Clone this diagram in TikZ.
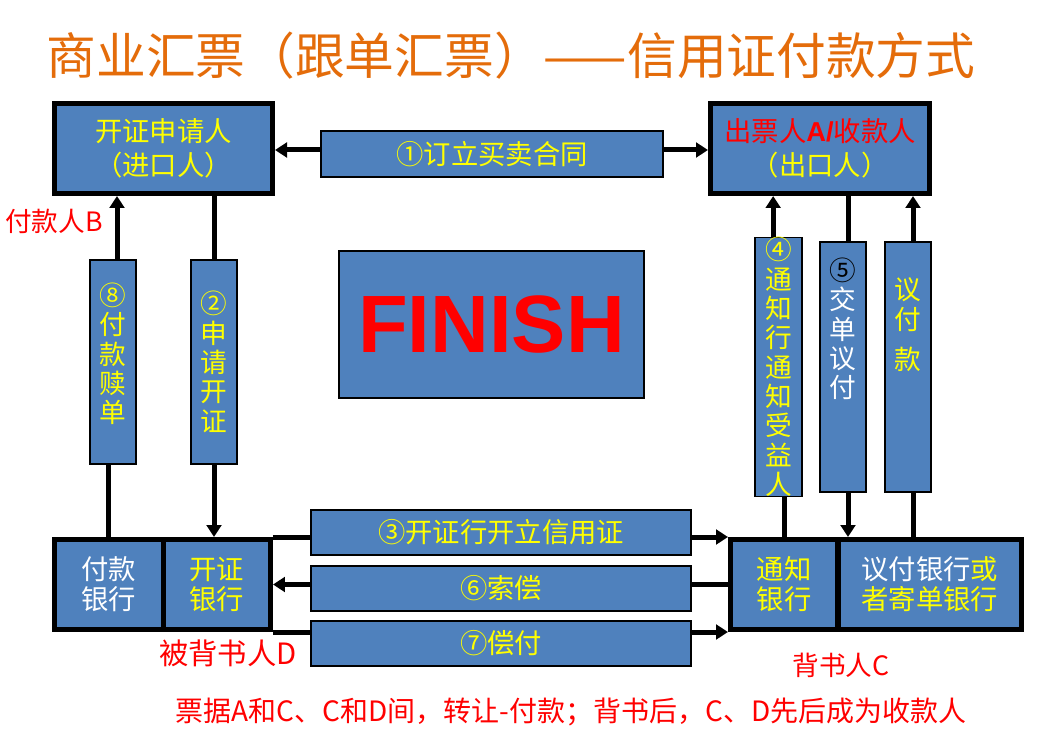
\documentclass[tikz,border=0pt]{standalone}
\usepackage{fontspec}
\usepackage{xcolor}
\usetikzlibrary{arrows.meta}
\newfontfamily\song{Noto Sans CJK SC}
\newfontfamily\hei{Noto Sans CJK SC}
\newfontfamily\arial{Liberation Sans}
\definecolor{boxblue}{HTML}{4F81BD}
\definecolor{titleorange}{HTML}{E46C0A}
\definecolor{ppyellow}{HTML}{FFFF00}

\begin{document}
\begin{tikzpicture}[x=0.75pt,y=-0.75pt,
    party/.style={draw=black,line width=3.75pt,fill=boxblue,inner sep=0pt,align=center,
        font=\song\fontsize{20.5}{25}\selectfont,text=ppyellow},
    bank/.style={party,minimum height=67.5pt,font=\song\fontsize{20.5}{22.5}\selectfont},
    flowbox/.style={draw=black,line width=1pt,fill=boxblue,inner sep=0pt,align=center,
        font=\song\fontsize{20.5}{24}\selectfont,text=ppyellow},
    hbox/.style={flowbox,minimum width=285pt,minimum height=33.75pt},
    vbox/.style={flowbox,minimum width=34.5pt,font=\song\fontsize{20}{22}\selectfont},
    link/.style={line width=3.75pt},
    arr/.style={link,-{Triangle[length=9pt,width=11pt]}},
    note/.style={text=red,inner sep=0pt,font=\hei\fontsize{20}{24}\selectfont}]
\useasboundingbox (0,0) rectangle (1053,741);
\node[text=titleorange,font=\song\fontsize{37.3}{40}\selectfont] (title) at (511,56)
    {商业汇票（跟单汇票）——信用证付款方式};
\node[party,minimum width=163.5pt,minimum height=67.5pt] (apply) at (163.5,148.5) {开证申请人\\（进口人）};
\node[party,minimum width=164.25pt,minimum height=67.5pt] (drawer) at (820,148.5)
    {\textcolor{red}{出票人{\arial\bfseries A/}收款人}\\（出口人）};
\node[flowbox,minimum width=256.5pt,minimum height=34.5pt] (contract) at (492,154) {①订立买卖合同};
\node[vbox,minimum height=153pt] (b8) at (113,362) {⑧\\付\\款\\赎\\单\\[-8.5pt]~};
\node[vbox,minimum height=153pt] (b2) at (214,362) {②\\申\\请\\开\\证};
\node[vbox,minimum width=35.25pt,minimum height=187.5pt] (b4) at (778.5,367)
    {④\\通\\知\\行\\通\\知\\受\\益\\人};
\node[vbox,minimum height=187.5pt,text=white] (b5) at (843,367) {\textcolor{black}{⑤}\\交\\单\\议\\付\\[36.5pt]~};
\node[vbox,minimum height=187.5pt] (bpay) at (908,367) {议\\付\\[8pt]款\\[43pt]~};
\node[flowbox,minimum width=228.75pt,minimum height=110.25pt,text=red,
    font=\arial\bfseries\fontsize{61}{61}\selectfont] (finish) at (491.5,324.5) {FINISH};
\node[bank,minimum width=81.4pt,text=white] (paybank) at (108.75,584.5) {付款\\银行};
\node[bank,minimum width=80.6pt] (issuebank) at (216.75,584.5) {开证\\银行};
\node[bank,minimum width=80.6pt] (advbank) at (784.25,584.5) {通知\\银行};
\node[bank,minimum width=137.6pt] (negbank) at (929.75,584.5) {\textcolor{white}{议付银行}或\\者寄单银行};
\node[hbox] (b3) at (501,532.5) {③开证行开立信用证};
\node[hbox] (b6) at (501,588.5) {⑥索偿};
\node[hbox] (b7) at (501,643.5) {⑦偿付};
\node[note] (payerB) at (54,221) {付款人B};
\node[note,font=\hei\fontsize{22}{26}\selectfont] (endorseeD) at (228,653) {被背书人D};
\node[note] (endorserC) at (841,665) {背书人C};
\node[note,font=\hei\fontsize{21}{24}\selectfont] (remark) at (571,712) {票据A和C、C和D间，转让-付款；背书后，C、D先后成为收款人};
\draw[arr] ([yshift=3pt]contract.west) -- ([yshift=3pt]contract.west -| apply.east);
\draw[arr] ([yshift=3pt]contract.east) -- ([yshift=3pt]contract.east -| drawer.west);
\draw[link] (paybank.north) -- (paybank.north |- b8.south);
\draw[arr] ([xshift=3pt]b8.north) -- ([xshift=3pt]b8.north |- apply.south);
\draw[link] (b2.north |- apply.south) -- (b2.north);
\draw[arr] (b2.south) -- (b2.south |- issuebank.north);
\draw[arr] ([xshift=-4pt]b4.north) -- ([xshift=-4pt]b4.north |- drawer.south);
\draw[link] (advbank.north) -- (advbank.north |- b4.south);
\draw[link] ([xshift=3.75pt]b5.north |- drawer.south) -- ([xshift=3.75pt]b5.north);
\draw[arr] ([xshift=3.75pt]b5.south) -- ([xshift=3.75pt]b5.south |- negbank.north);
\draw[arr] ([xshift=3.75pt]bpay.north) -- ([xshift=3.75pt]bpay.north |- drawer.south);
\draw[link] ([xshift=3.75pt]bpay.south) -- ([xshift=3.75pt]bpay.south |- negbank.north);
\draw[link] (issuebank.north east) -- (issuebank.north east -| b3.west);
\draw[arr] (b3.east |- advbank.north west) -- (advbank.north west);
\draw[link] (advbank.west) -- (advbank.west -| b6.east);
\draw[arr] (b6.west |- issuebank.east) -- (issuebank.east);
\draw[link] (issuebank.south east) -- (issuebank.south east -| b7.west);
\draw[arr] (b7.east |- advbank.south west) -- (advbank.south west);
\end{tikzpicture}
\end{document}
